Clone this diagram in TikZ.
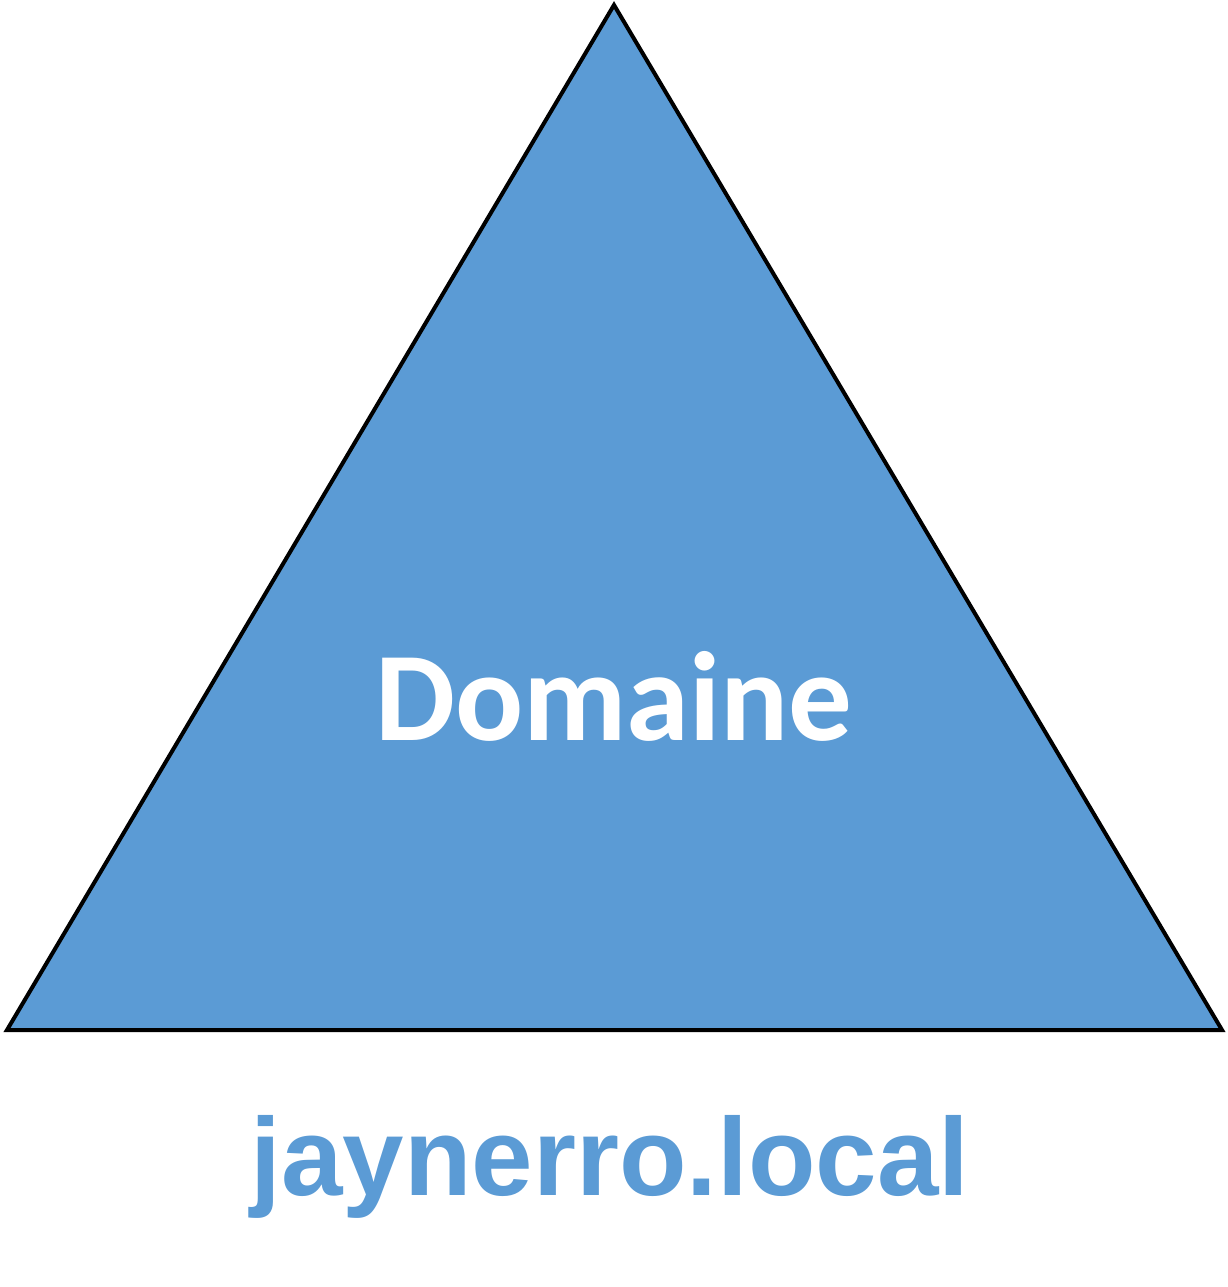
\documentclass[tikz,border=0pt]{standalone}
\usepackage{fontspec}
\newfontfamily\calib{Carlito}[BoldFont={* Bold}]
\newfontfamily\arialf{Liberation Sans}
\definecolor{dblue}{HTML}{5B9BD5}
\begin{document}
\begin{tikzpicture}[x=1pt,y=-1pt,
  tri/.style={fill=dblue,draw=black,line width=4pt,line join=miter},
  lbl/.style={anchor=base,inner sep=0pt}]
\useasboundingbox (0,0) rectangle (1228,1287);
\coordinate (A) at (614,5);
\coordinate (B) at (7,1030);
\coordinate (C) at (1222,1030);
\draw[tri] (A) -- (B) -- (C) -- cycle;
\node[lbl,text=white,font={\calib\bfseries\fontsize{127}{128}\selectfont}] (dom) at (614,740) {Domaine};
\node[lbl,text=dblue,font={\arialf\bfseries\fontsize{110.5}{111}\selectfont}] (name) at (610,1195) {jaynerro.local};
\end{tikzpicture}
\end{document}
